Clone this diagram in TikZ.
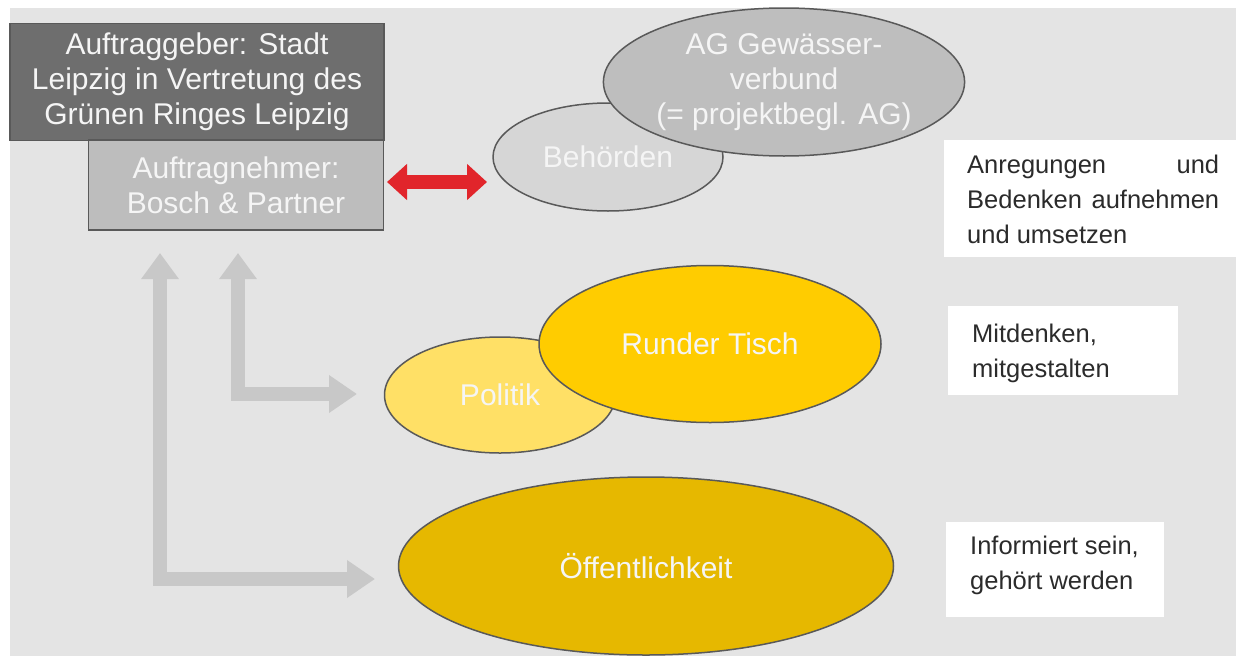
\documentclass[tikz,border=0pt]{standalone}
\usepackage{fontspec}
\setmainfont{Liberation Sans}
\usetikzlibrary{shapes.geometric,arrows.meta}
\definecolor{bg}{HTML}{E4E4E4}
\definecolor{boxdark}{HTML}{6E6E6E}
\definecolor{boxlight}{HTML}{BDBDBD}
\definecolor{outl}{HTML}{595959}
\definecolor{behoerde}{HTML}{D6D6D6}
\definecolor{agcol}{HTML}{BEBEBE}
\definecolor{politik}{HTML}{FFE066}
\definecolor{runder}{HTML}{FFCC00}
\definecolor{oeff}{HTML}{E6B800}
\definecolor{arrowgray}{HTML}{C8C8C8}
\definecolor{redarrow}{HTML}{E1252B}
\definecolor{txtdark}{HTML}{2B2B2B}
\definecolor{txtlight}{HTML}{F5F5F5}
\tikzset{
  bigtext/.style={font=\fontsize{30}{35}\selectfont, text=txtlight, align=center},
  rectbox/.style={draw=outl, line width=1.5pt, inner sep=0pt, bigtext},
  ell/.style={ellipse, draw=outl, line width=1.5pt, inner sep=0pt, bigtext},
  notebox/.style={fill=white, inner sep=0pt},
  notetext/.style={font=\fontsize{25.5}{35}\selectfont, text=txtdark, align=left, inner sep=0pt, anchor=north west},
  grayarrow/.style={draw=arrowgray, line width=14pt, line join=miter,
     {Triangle[width=36pt,length=26pt]}-{Triangle[width=36pt,length=28pt]}},
  redarr/.style={draw=redarrow, line width=14pt,
     {Triangle[width=35pt,length=20pt]}-{Triangle[width=35pt,length=20pt]}}
}
\begin{document}
\begin{tikzpicture}[x=1pt,y=-1pt]
\useasboundingbox (0,0) rectangle (1236,656);
\fill[white] (0,0) rectangle (1236,656);
\fill[bg] (10,8) rectangle (1236,656);

% gray L arrows
\coordinate (g1top) at (160,253);
\coordinate (g1corner) at (160,579);
\coordinate (g1end) at (375,579);
\coordinate (g2top) at (238,253);
\coordinate (g2corner) at (238,394);
\coordinate (g2end) at (357,394);
\draw[grayarrow] (g1top) -- (g1corner) -- (g1end);
\draw[grayarrow] (g2top) -- (g2corner) -- (g2end);

% boxes
\node[rectbox, fill=boxdark, minimum width=374pt, minimum height=117pt] (ag) at (197,82)
  {\raisebox{-2pt}{\parbox{370pt}{\centering Auftraggeber: Stadt\\Leipzig in Vertretung des\\Grünen Ringes Leipzig}}};
\node[rectbox, fill=boxlight, minimum width=295pt, minimum height=90pt] (an) at (236,185)
  {Auftragnehmer:\\Bosch \& Partner};

% ellipses
\node[ell, fill=behoerde, minimum width=230pt, minimum height=108pt] (beh) at (608,157) {Behörden};
\node[ell, fill=agcol, minimum width=352pt, minimum height=148pt] (agg) at (784,82)
  {AG Gewässer-\\verbund\\(= projektbegl. AG)};
\node[ell, fill=politik, minimum width=231pt, minimum height=116pt] (pol) at (500,395) {Politik};
\node[ell, fill=runder, minimum width=342pt, minimum height=157pt] (rt) at (710,344) {Runder Tisch};
\node[ell, fill=oeff, minimum width=495pt, minimum height=178pt] (oe) at (646,566) {Öffentlichkeit};

% red arrow
\coordinate (rl) at (387,182);
\coordinate (rr) at (487,182);
\draw[redarr] (rl) -- (rr);

% note boxes
\fill[notebox] (944,140) rectangle (1236,257);
\node[notetext] (n1) at (967,155)
  {\hbox to 252pt{Anregungen\hfill und}\\\hbox to 252pt{Bedenken\hfill aufnehmen}\\und umsetzen};
\fill[notebox] (948,306) rectangle (1178,395);
\node[notetext] (n2) at (972,324) {Mitdenken,\\mitgestalten};
\fill[notebox] (946,522) rectangle (1164,617);
\node[notetext] (n3) at (970,536) {Informiert sein,\\gehört werden};
\end{tikzpicture}
\end{document}
